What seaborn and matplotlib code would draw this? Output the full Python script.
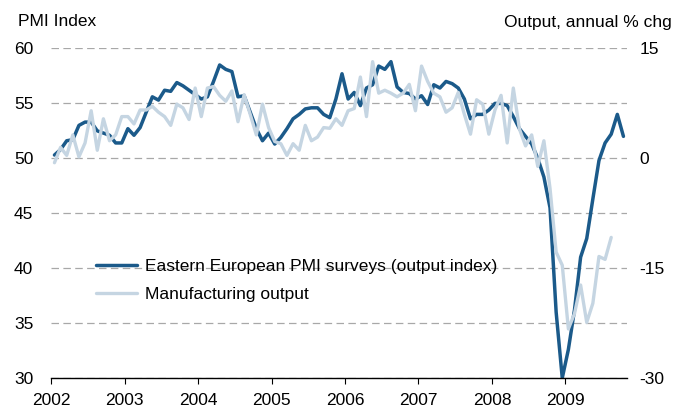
import matplotlib
matplotlib.use('Agg')
import matplotlib.pyplot as plt
import numpy as np
import seaborn as sns

sns.set_style('white')
plt.rcParams['font.family'] = ['Liberation Sans', 'DejaVu Sans']
plt.rcParams['axes.unicode_minus'] = False
plt.rcParams['text.color'] = 'black'

# monthly data, Jan 2002 onwards
start_year = 2002
pmi = [
    50.3, 50.8, 51.6, 51.7, 53.0, 53.3, 53.3, 52.5, 52.3, 52.1, 51.4, 51.4,
    52.7, 52.1, 52.8, 54.2, 55.6, 55.3, 56.2, 56.1, 56.9, 56.6, 56.2, 55.8,
    55.4, 55.6, 57.0, 58.5, 58.1, 57.9, 55.6, 55.7, 54.2, 52.7, 51.6, 52.3,
    51.3, 51.9, 52.7, 53.6, 54.0, 54.5, 54.6, 54.6, 54.0, 53.7, 55.4, 57.7,
    55.4, 56.0, 54.8, 56.4, 56.7, 58.4, 58.1, 58.8, 56.5, 56.0, 55.9, 55.4,
    55.7, 54.9, 56.7, 56.4, 57.0, 56.8, 56.4, 55.4, 53.6, 54.0, 54.0, 54.4,
    55.0, 55.0, 54.8, 53.8, 52.7, 52.0, 51.3, 50.0, 48.3, 45.5, 36.0, 30.0,
    32.6, 36.2, 41.0, 42.7, 46.3, 49.8, 51.4, 52.2, 54.0, 52.0,
]
output = [
    -0.6, 1.5, 0.4, 3.2, 0.2, 2.1, 6.5, 1.1, 5.4, 2.4, 3.2, 5.7,
    5.7, 4.7, 6.6, 6.6, 7.1, 6.3, 5.7, 4.5, 7.4, 6.9, 5.3, 9.6,
    5.7, 9.6, 9.8, 8.6, 7.8, 9.2, 5.0, 8.7, 6.0, 3.2, 7.4, 4.2,
    2.3, 2.0, 0.4, 2.0, 1.1, 4.5, 2.4, 2.9, 4.2, 4.1, 5.4, 4.5,
    6.5, 6.8, 11.1, 5.7, 13.2, 8.9, 9.3, 8.9, 8.4, 8.9, 10.1, 6.5,
    12.6, 10.5, 8.9, 8.4, 6.3, 6.9, 9.0, 6.0, 3.3, 8.0, 7.4, 3.3,
    6.6, 8.6, 2.1, 9.6, 4.0, 1.7, 3.2, -1.1, 2.4, -4.1, -12.8, -14.6,
    -23.3, -21.2, -17.3, -22.4, -19.8, -13.4, -13.8, -10.8,
]
year_ticks = list(range(2002, 2010))
left_ticks = [30, 35, 40, 45, 50, 55, 60]
right_ticks = [-30, -15, 0, 15]
pmi_label = 'Eastern European PMI surveys (output index)'
output_label = 'Manufacturing output'

DARK = '#1b5a8a'
LIGHT = '#c5d5e2'

pmi_x = start_year + (np.arange(len(pmi)) + 0.5) / 12
out_x = start_year + (np.arange(len(output)) + 0.5) / 12

fig = plt.figure(figsize=(6.79, 4.12), dpi=100)
ax = fig.add_axes([0.0757, 0.0825, 0.8477, 0.7998])
ax2 = ax.twinx()

sns.lineplot(x=pmi_x, y=pmi, ax=ax, color=DARK, linewidth=2.5)
sns.lineplot(x=out_x, y=output, ax=ax2, color=LIGHT, linewidth=2.4)

ax.set_xlim(2002, 2009.84)
ax.set_ylim(30, 60)
ax2.set_ylim(-30, 15)
ax.set_xticks(year_ticks, labels=[str(y) for y in year_ticks])
ax.set_yticks(left_ticks)
ax2.set_yticks(right_ticks)

ax.grid(axis='y', linestyle=(0, (6, 3.5)), color='#a8a8a8', linewidth=0.9)
ax.grid(axis='x', visible=False)
ax2.grid(False)
ax.set_axisbelow(True)

for a in (ax, ax2):
    for side in ('top', 'left', 'right'):
        a.spines[side].set_visible(False)
ax2.spines['bottom'].set_visible(False)
ax.spines['bottom'].set_color('black')
ax.spines['bottom'].set_linewidth(1.0)

ax.tick_params(axis='x', bottom=True, length=4, width=0.8, color='black',
               direction='out', pad=7, labelsize=12.5, labelcolor='black')
ax.tick_params(axis='y', left=False, length=0, pad=13, labelsize=12.5, labelcolor='black')
ax2.tick_params(axis='y', right=False, length=0, pad=9, labelsize=12.5, labelcolor='black')
ax.set_xlabel('')
ax.set_ylabel('')
ax2.set_ylabel('')

fig.text(18 / 679, 1 - 22 / 412, 'PMI Index', ha='left', va='center', fontsize=12.5)
fig.text(672 / 679, 1 - 22 / 412, 'Output, annual % chg', ha='right', va='center', fontsize=12.5)

handles = [ax.lines[0], ax2.lines[0]]
ax2.legend(handles, [pmi_label, output_label], loc='center left',
           bbox_to_anchor=(0.062, 0.296), frameon=False, fontsize=12.5,
           handlelength=2.4, handletextpad=0.45, labelspacing=0.7, borderpad=0)

fig.savefig('out.png', dpi=100)
